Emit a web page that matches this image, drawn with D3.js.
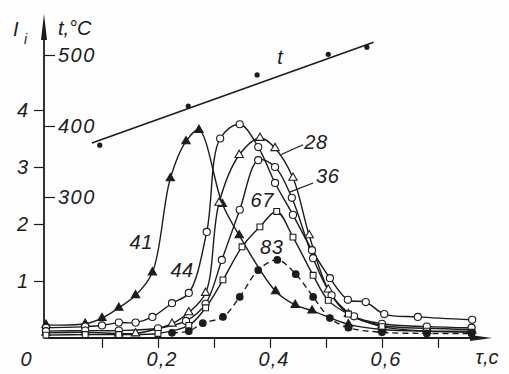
<!DOCTYPE html>
<html>
<head>
<meta charset="utf-8">
<title>I_i and t vs tau</title>
<script src="https://cdn.jsdelivr.net/npm/d3@7"></script>
<style>
  body { margin: 0; background: #fdfdfd; }
  svg text { font-family: "Liberation Sans", Arial, sans-serif; font-style: italic; fill: #1c1c1c; }
</style>
</head>
<body>
<svg id="chart" width="509" height="374"></svg>
<script>
// temperature line and its points
const tLineTau = [0.082, 0.585];
const tLineVal = [376, 518];
const tPointTau = [0.096, 0.254, 0.377, 0.504, 0.573];
const tPointVal = [373, 428, 472, 501, 511];

// current curves
const tau41 = [0, 0.07, 0.1, 0.13, 0.16, 0.19, 0.222, 0.25, 0.273, 0.315, 0.345, 0.41, 0.445, 0.475, 0.54, 0.6, 0.68, 0.76];
const I41   = [0.23, 0.25, 0.35, 0.53, 0.75, 1.15, 2.8, 3.45, 3.65, 2.35, 1.8, 0.82, 0.58, 0.48, 0.24, 0.15, 0.12, 0.12];

const tau44 = [0, 0.07, 0.1, 0.13, 0.16, 0.19, 0.225, 0.255, 0.287, 0.311, 0.346, 0.379, 0.409, 0.441, 0.475, 0.507, 0.539, 0.571, 0.604, 0.664, 0.761];
const I44   = [0.18, 0.2, 0.22, 0.27, 0.27, 0.37, 0.61, 0.79, 1.86, 3.5, 3.75, 3.35, 2.72, 2.16, 1.54, 1.05, 0.67, 0.63, 0.42, 0.37, 0.32];

const tau28 = [0, 0.07, 0.13, 0.16, 0.225, 0.255, 0.285, 0.309, 0.345, 0.382, 0.409, 0.441, 0.47, 0.504, 0.54, 0.6, 0.68, 0.76];
const I28   = [0.09, 0.1, 0.08, 0.08, 0.25, 0.45, 0.79, 2.37, 3.21, 3.51, 3.33, 2.81, 1.8, 0.85, 0.42, 0.22, 0.17, 0.15];

const tau36 = [0, 0.07, 0.13, 0.2, 0.25, 0.285, 0.314, 0.346, 0.379, 0.409, 0.439, 0.477, 0.51, 0.55, 0.6, 0.68, 0.76];
const I36   = [0.12, 0.13, 0.13, 0.17, 0.3, 0.6, 1.37, 2.25, 3.12, 3.0, 2.46, 1.4, 0.75, 0.38, 0.25, 0.2, 0.18];

const tau67 = [0, 0.07, 0.13, 0.2, 0.255, 0.285, 0.316, 0.35, 0.382, 0.412, 0.441, 0.477, 0.504, 0.54, 0.6, 0.68, 0.76];
const I67   = [0.05, 0.06, 0.06, 0.08, 0.22, 0.53, 1.02, 1.6, 1.95, 2.22, 1.77, 1.1, 0.66, 0.42, 0.2, 0.12, 0.1];

const tau83 = [0.225, 0.255, 0.28, 0.316, 0.346, 0.379, 0.413, 0.446, 0.477, 0.507, 0.54, 0.6, 0.68, 0.76];
const I83   = [0.09, 0.12, 0.26, 0.37, 0.72, 1.19, 1.37, 1.12, 0.72, 0.35, 0.18, 0.1, 0.08, 0.08];

const xTicks = [0.1, 0.2, 0.3, 0.4, 0.5, 0.6, 0.7];
const xLabels = [0.2, 0.4, 0.6];
const iTicks = [1, 2, 3, 4];
const tTicks = [300, 400, 500];

const ink = "#1c1c1c";
const svg = d3.select("#chart");

const x = d3.scaleLinear().domain([0, 0.8]).range([46, 494]);
const yI = d3.scaleLinear().domain([0, 4]).range([338, 110]);
const yT = d3.scaleLinear().domain([300, 500]).range([197, 55]);

// axes
svg.append("line")
  .attr("x1", x(0) - 2).attr("x2", x(0.8) - 10)
  .attr("y1", yI(0)).attr("y2", yI(0))
  .attr("stroke", ink).attr("stroke-width", 1.8);
svg.append("path")
  .attr("d", `M${x(0.8) - 2},${yI(0)} L${x(0.8) - 24},${yI(0) - 3} L${x(0.8) - 24},${yI(0) + 3} Z`)
  .attr("fill", ink);

svg.append("line")
  .attr("x1", x(0) - 2).attr("x2", x(0) - 2)
  .attr("y1", yI(0)).attr("y2", 36)
  .attr("stroke", ink).attr("stroke-width", 1.8);
svg.append("path")
  .attr("d", `M${x(0) - 2},14 L${x(0) - 5},40 L${x(0) + 1},40 Z`)
  .attr("fill", ink);

const xAxis = svg.append("g")
  .attr("transform", `translate(0,${yI(0)})`)
  .call(d3.axisBottom(x).tickValues(xTicks).tickSize(10).tickFormat(""));
xAxis.select(".domain").remove();
xAxis.selectAll("line").attr("stroke", ink).attr("stroke-width", 1.2);

const iAxis = svg.append("g")
  .attr("transform", `translate(${x(0) - 2},0)`)
  .call(d3.axisLeft(yI).tickValues(iTicks).tickSize(10).tickPadding(6).tickFormat(d3.format("d")));
iAxis.select(".domain").remove();
iAxis.selectAll("line").attr("stroke", ink).attr("stroke-width", 1.2);
iAxis.selectAll("text").attr("font-size", 20).attr("font-family", null).style("fill", ink);

const tAxis = svg.append("g")
  .attr("transform", `translate(${x(0) - 2},0)`)
  .call(d3.axisRight(yT).tickValues(tTicks).tickSize(11).tickPadding(3).tickFormat(d3.format("d")));
tAxis.select(".domain").remove();
tAxis.selectAll("line").attr("stroke", ink).attr("stroke-width", 1.2);
tAxis.selectAll("text").attr("font-size", 20).attr("font-family", null)
  .attr("letter-spacing", 1.5).style("fill", ink);

// x tick labels
svg.append("text").attr("x", x(0) - 20).attr("y", 366)
  .attr("text-anchor", "middle").attr("font-size", 20).text("0");
svg.selectAll(".xlab").data(xLabels).enter().append("text")
  .attr("x", d => x(d) + 4).attr("y", 366)
  .attr("text-anchor", "middle").attr("font-size", 20).attr("letter-spacing", 1)
  .text(d => d3.format(".1f")(d).replace(".", ","));
svg.append("text").attr("x", 487).attr("y", 364)
  .attr("text-anchor", "middle").attr("font-size", 20).text("τ,c");

// axis titles
svg.append("text").attr("x", 13).attr("y", 36).attr("font-size", 20)
  .attr("font-family", "Liberation Serif, serif").text("I");
svg.append("text").attr("x", 24).attr("y", 44).attr("font-size", 14)
  .attr("font-family", "Liberation Serif, serif").text("i");
svg.append("text").attr("x", 58).attr("y", 35).attr("font-size", 20).text("t,°C");

// temperature line
svg.append("line")
  .attr("x1", x(tLineTau[0])).attr("y1", yT(tLineVal[0]))
  .attr("x2", x(tLineTau[1])).attr("y2", yT(tLineVal[1]))
  .attr("stroke", ink).attr("stroke-width", 1.6);
svg.selectAll(".tpt").data(tPointTau).enter().append("circle")
  .attr("cx", d => x(d)).attr("cy", (d, i) => yT(tPointVal[i]))
  .attr("r", 2.6).attr("fill", ink);
svg.append("text").attr("x", 280).attr("y", 64).attr("text-anchor", "middle")
  .attr("font-size", 20).text("t");

// current curves
const series = [
  { tau: tau41, I: I41, sym: d3.symbolTriangle, size: 30, filled: true,  dash: null },
  { tau: tau44, I: I44, sym: d3.symbolCircle,   size: 40, filled: false, dash: null },
  { tau: tau28, I: I28, sym: d3.symbolTriangle, size: 30, filled: false, dash: null },
  { tau: tau36, I: I36, sym: d3.symbolCircle,   size: 40, filled: false, dash: null },
  { tau: tau67, I: I67, sym: d3.symbolSquare,   size: 34, filled: false, dash: null },
  { tau: tau83, I: I83, sym: d3.symbolCircle,   size: 34, filled: true,  dash: "6,4" }
];

const line = d3.line()
  .x(d => x(d[0])).y(d => yI(d[1]))
  .curve(d3.curveCatmullRom.alpha(0.5));

series.forEach(s => {
  const pts = s.tau.map((t, i) => [t, s.I[i]]);
  svg.append("path")
    .attr("d", line(pts))
    .attr("fill", "none").attr("stroke", ink).attr("stroke-width", 1.4)
    .attr("stroke-dasharray", s.dash);
});

series.forEach(s => {
  const pts = s.tau.map((t, i) => [t, s.I[i]]);
  svg.append("g").selectAll("path").data(pts).enter().append("path")
    .attr("transform", d => `translate(${x(d[0])},${yI(d[1])})`)
    .attr("d", d3.symbol().type(s.sym).size(s.size))
    .attr("fill", s.filled ? ink : "#fdfdfd")
    .attr("stroke", ink).attr("stroke-width", 1.1);
});

// curve labels
const curveLabels = [
  { text: "41", tau: 0.17, I: 1.68 },
  { text: "44", tau: 0.243, I: 1.2 },
  { text: "28", tau: 0.482, I: 3.44 },
  { text: "36", tau: 0.503, I: 2.85 },
  { text: "67", tau: 0.386, I: 2.42 },
  { text: "83", tau: 0.403, I: 1.6 }
];
svg.selectAll(".clab").data(curveLabels).enter().append("text")
  .attr("x", d => x(d.tau)).attr("y", d => yI(d.I)).attr("dy", "0.35em")
  .attr("text-anchor", "middle").attr("font-size", 20).attr("letter-spacing", 0.5)
  .text(d => d.text);

// leader lines for 28 and 36
const leaders = [
  { from: [0.42, 3.22], to: [0.459, 3.39] },
  { from: [0.435, 2.56], to: [0.477, 2.72] }
];
svg.selectAll(".lead").data(leaders).enter().append("line")
  .attr("x1", d => x(d.from[0])).attr("y1", d => yI(d.from[1]))
  .attr("x2", d => x(d.to[0])).attr("y2", d => yI(d.to[1]))
  .attr("stroke", ink).attr("stroke-width", 1.2);
</script>
</body>
</html>
